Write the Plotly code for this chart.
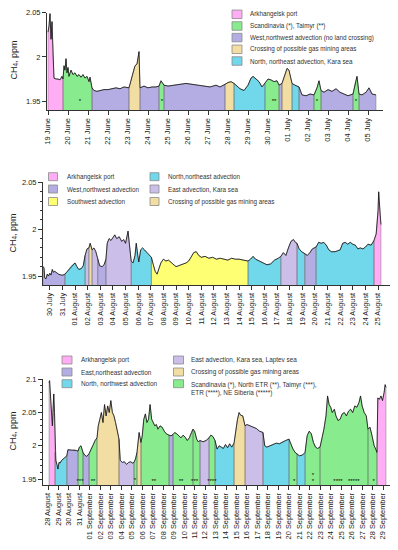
import pandas as pd
import plotly.graph_objects as go

# page body has an 8px default margin: the figure is sized to fill the rest of the window
OFF = 8
W, H = 398 - OFF, 550 - OFF

# ======================= DATA =======================
# ---- Panel 1: 19 June - 05 July ----
p1_start = "2016-06-19"
p1_day = [0.00, 0.05, 0.10, 0.15, 0.20, 0.25, 0.30, 0.40, 0.50, 0.60, 0.70, 0.75,
          0.80, 0.85, 0.90, 0.95, 1.00, 1.05, 1.15, 1.25, 1.35, 1.45, 1.55, 1.65,
          1.75, 1.85, 1.95, 2.05, 2.10, 2.20, 2.30, 2.45, 2.60, 2.80, 3.00, 3.20,
          3.40, 3.60, 3.80, 4.05, 4.20, 4.35, 4.45, 4.55, 4.60, 4.80, 5.00, 5.20,
          5.40, 5.55, 5.65, 5.80, 6.00, 6.30, 6.60, 6.90, 7.20, 7.50, 7.80, 8.10,
          8.40, 8.60, 8.85, 9.00, 9.15, 9.30, 9.45, 9.60, 9.80, 10.00, 10.15, 10.25,
          10.40, 10.55, 10.70, 10.85, 11.00, 11.15, 11.30, 11.45, 11.55, 11.70, 11.85, 11.95,
          12.05, 12.20, 12.35, 12.55, 12.70, 12.90, 13.10, 13.30, 13.45, 13.55, 13.65, 13.80,
          14.00, 14.20, 14.40, 14.60, 14.80, 15.00, 15.25, 15.35, 15.45, 15.55, 15.70, 15.90,
          16.05, 16.20, 16.40]
p1_ch4 = [2.028, 2.035, 2.049, 2.020, 2.040, 2.000, 1.976, 1.975, 1.975, 1.974, 1.978, 1.975,
          1.990, 1.985, 1.998, 1.982, 1.988, 1.978, 1.985, 1.980, 1.982, 1.978, 1.980, 1.977,
          1.980, 1.976, 1.978, 1.972, 1.977, 1.965, 1.962, 1.961, 1.962, 1.963, 1.963, 1.964,
          1.965, 1.964, 1.966, 1.965, 1.978, 1.990, 1.992, 2.006, 1.965, 1.967, 1.965, 1.966,
          1.966, 1.967, 1.973, 1.968, 1.967, 1.968, 1.969, 1.970, 1.969, 1.968, 1.967, 1.966,
          1.968, 1.966, 1.969, 1.971, 1.972, 1.970, 1.967, 1.964, 1.962, 1.968, 1.976, 1.978,
          1.975, 1.972, 1.966, 1.970, 1.975, 1.974, 1.972, 1.973, 1.968, 1.970, 1.980, 1.987,
          1.985, 1.970, 1.968, 1.966, 1.957, 1.956, 1.958, 1.957, 1.965, 1.973, 1.962, 1.960,
          1.963, 1.961, 1.964, 1.960, 1.958, 1.956, 1.958, 1.970, 1.978, 1.958, 1.957, 1.960,
          1.965, 1.958, 1.957]
p1_cats = ["Arkhangelsk port", "Scandinavia (*), Taimyr (**)",
           "West,northwest advection (no land crossing)",
           "Crossing of possible gas mining areas",
           "North, northeast advection, Kara sea"]
p1_seg_from = [0, 0.75, 2.2, 4.05, 4.6, 5.55, 5.8, 8.85, 9.3, 10.85, 11.55, 11.7, 12.2, 12.55, 13.3, 13.65, 15.25, 15.55]
p1_seg_to = [0.75, 2.2, 4.05, 4.6, 5.55, 5.8, 8.85, 9.3, 10.85, 11.55, 11.7, 12.2, 12.55, 13.3, 13.65, 15.25, 15.55, 16.4]
p1_seg_cat = [0, 1, 2, 3, 2, 1, 2, 3, 4, 1, 2, 3, 4, 2, 1, 2, 1, 2]
p1_star_day = [1.6, 5.7, 11.3, 13.45, 15.4]
p1_star_ch4 = [1.950, 1.949, 1.949, 1.950, 1.949]
p1_star_txt = ["*", "*", "**", "*", "*"]

# ---- Panel 2: 30 July - 25 August ----
p2_start = "2016-07-30"
p2_day = [-0.50, -0.45, -0.40, -0.30, -0.20, -0.10, 0.00, 0.10, 0.20, 0.30, 0.40, 0.55,
          0.70, 0.90, 1.05, 1.20, 1.40, 1.60, 1.80, 2.00, 2.15, 2.30, 2.50, 2.65,
          2.80, 2.95, 3.10, 3.20, 3.35, 3.50, 3.65, 3.80, 3.95, 4.15, 4.30, 4.45,
          4.55, 4.70, 4.85, 5.00, 5.15, 5.30, 5.50, 5.70, 5.85, 6.00, 6.10, 6.20,
          6.30, 6.45, 6.60, 6.75, 6.85, 6.95, 7.05, 7.20, 7.35, 7.50, 7.70, 7.90,
          8.05, 8.20, 8.35, 8.50, 8.65, 8.80, 9.00, 9.20, 9.40, 9.60, 9.80, 10.00,
          10.20, 10.40, 10.60, 10.80, 11.00, 11.20, 11.40, 11.60, 11.80, 12.00, 12.30, 12.60,
          12.90, 13.20, 13.50, 13.80, 14.10, 14.40, 14.70, 15.00, 15.30, 15.70, 15.90, 16.10,
          16.30, 16.60, 16.90, 17.20, 17.50, 17.80, 18.10, 18.30, 18.50, 18.70, 18.90, 19.10,
          19.30, 19.45, 19.58, 19.75, 19.95, 20.20, 20.40, 20.60, 20.80, 21.09, 21.30, 21.50,
          21.70, 21.90, 22.10, 22.30, 22.60, 22.80, 23.00, 23.20, 23.40, 23.60, 23.80, 24.00,
          24.20, 24.40, 24.60, 24.80, 25.00, 25.20, 25.45, 25.68, 25.85, 26.00, 26.05, 26.10,
          26.15, 26.23]
p2_ch4 = [1.960, 1.958, 1.948, 1.947, 1.952, 1.950, 1.953, 1.951, 1.957, 1.954, 1.955, 1.953,
          1.952, 1.951, 1.951, 1.952, 1.955, 1.959, 1.962, 1.964, 1.960, 1.957, 1.958, 1.961,
          1.972, 1.979, 1.980, 1.985, 1.978, 1.980, 1.976, 1.968, 1.961, 1.960, 1.962, 1.968,
          1.985, 1.990, 1.988, 1.991, 1.994, 1.990, 1.992, 1.987, 1.989, 1.985, 1.990, 1.998,
          1.985, 1.966, 1.964, 1.972, 1.985, 1.972, 1.965, 1.978, 1.980, 1.978, 1.975, 1.972,
          1.970, 1.962, 1.955, 1.952, 1.958, 1.964, 1.968, 1.966, 1.967, 1.965, 1.962, 1.960,
          1.961, 1.962, 1.963, 1.964, 1.966, 1.970, 1.975, 1.976, 1.972, 1.970, 1.971, 1.969,
          1.970, 1.968, 1.969, 1.968, 1.967, 1.969, 1.968, 1.968, 1.967, 1.966, 1.968, 1.971,
          1.968, 1.966, 1.964, 1.962, 1.963, 1.967, 1.969, 1.971, 1.975, 1.972, 1.980, 1.987,
          1.989, 1.986, 1.985, 1.979, 1.976, 1.974, 1.972, 1.975, 1.979, 1.981, 1.986, 1.985,
          1.986, 1.983, 1.978, 1.976, 1.976, 1.977, 1.978, 1.985, 1.986, 1.984, 1.986, 1.984,
          1.983, 1.979, 1.980, 1.979, 1.981, 1.984, 1.983, 1.988, 1.995, 2.020, 2.040, 2.030,
          2.015, 2.005]
p2_cats = ["Arkhangelsk port", "West,northwest advection", "Southwest advection",
           "North,northeast advection", "East advection, Kara sea",
           "Crossing of possible gas mining areas"]
p2_seg_from = [-0.5, 1.2, 2.8, 3.1, 3.35, 3.8, 4.45, 6.45, 8.05, 15.7, 18.3, 19.58, 20.2, 21.09, 25.68]
p2_seg_to = [1.2, 2.8, 3.1, 3.35, 3.8, 4.45, 6.45, 8.05, 15.7, 18.3, 19.58, 20.2, 21.09, 25.68, 26.23]
p2_seg_cat = [1, 3, 4, 5, 4, 1, 4, 3, 2, 3, 4, 3, 1, 3, 0]

# ---- Panel 3: 28 August - 29 September ----
p3_start = "2016-08-28"
p3_day = [0.10, 0.15, 0.20, 0.28, 0.35, 0.42, 0.50, 0.55, 0.62, 0.67, 0.75, 0.85,
          0.95, 1.05, 1.15, 1.30, 1.45, 1.60, 1.80, 1.90, 2.10, 2.30, 2.50, 2.70,
          2.87, 3.00, 3.15, 3.34, 3.50, 3.70, 3.92, 4.10, 4.30, 4.50, 4.68, 4.80,
          4.95, 5.10, 5.25, 5.40, 5.55, 5.70, 5.85, 6.00, 6.15, 6.30, 6.45, 6.60,
          6.78, 6.90, 7.10, 7.30, 7.50, 7.70, 7.90, 8.05, 8.21, 8.35, 8.50, 8.70,
          8.88, 9.00, 9.15, 9.30, 9.45, 9.60, 9.75, 9.90, 10.05, 10.20, 10.35, 10.50,
          10.70, 10.90, 11.10, 11.30, 11.56, 11.75, 11.94, 12.10, 12.30, 12.50, 12.70, 12.90,
          13.10, 13.30, 13.50, 13.70, 13.85, 14.00, 14.20, 14.35, 14.52, 14.80, 15.10, 15.38,
          15.55, 15.75, 15.95, 16.15, 16.35, 16.55, 16.75, 16.95, 17.15, 17.35, 17.55, 17.77,
          17.95, 18.10, 18.25, 18.40, 18.60, 18.82, 19.00, 19.30, 19.60, 19.90, 20.20, 20.53,
          20.70, 20.90, 21.20, 21.50, 21.80, 22.10, 22.40, 22.70, 23.02, 23.20, 23.40, 23.60,
          23.78, 24.00, 24.30, 24.55, 24.75, 24.95, 25.15, 25.35, 25.55, 25.75, 25.98, 26.15,
          26.35, 26.55, 26.70, 26.85, 27.00, 27.15, 27.35, 27.50, 27.70, 27.90, 28.10, 28.30,
          28.50, 28.70, 28.90, 29.10, 29.30, 29.50, 29.70, 29.85, 30.00, 30.20, 30.40, 30.56,
          30.75, 30.95, 31.15, 31.30, 31.42, 31.50, 31.65, 31.80, 31.95, 32.10, 32.20, 32.28]
p3_ch4 = [2.095, 2.098, 2.085, 2.060, 2.040, 2.030, 2.060, 2.078, 2.050, 1.990, 1.978, 1.972,
          1.965, 1.975, 1.974, 1.978, 1.980, 1.982, 1.985, 1.994, 1.994, 1.993, 1.994, 1.993,
          1.992, 1.998, 2.000, 1.990, 1.986, 1.984, 1.988, 1.995, 2.000, 2.008, 2.012, 2.030,
          2.040, 2.050, 2.035, 2.062, 2.045, 2.060, 2.050, 2.068, 2.050, 2.045, 2.035, 2.025,
          2.010, 1.978, 1.975, 1.976, 1.972, 1.975, 1.976, 1.974, 1.975, 1.980, 1.990, 2.020,
          2.005, 2.015, 2.040, 2.048, 2.035, 2.040, 2.062, 2.040, 2.035, 2.030, 2.032, 2.025,
          2.030, 2.028, 2.022, 2.018, 2.016, 2.015, 2.017, 2.020, 2.018, 2.015, 2.012, 2.016,
          2.013, 2.008, 2.012, 2.020, 2.025, 2.022, 2.010, 2.006, 2.008, 2.006, 2.008, 2.012,
          2.016, 2.014, 2.008, 1.995, 2.000, 1.998, 1.996, 2.002, 1.997, 2.003, 1.998, 2.004,
          2.025, 2.040, 2.050, 2.046, 2.045, 2.030, 2.032, 2.030, 2.028, 2.026, 2.022, 2.020,
          2.000, 1.998, 2.000, 2.002, 2.004, 2.003, 2.006, 2.008, 2.010, 2.002, 1.995, 1.990,
          1.988, 1.985, 1.986, 1.990, 2.015, 2.022, 2.018, 2.005, 1.998, 1.996, 1.998, 2.010,
          2.025, 2.045, 2.075, 2.062, 2.058, 2.050, 2.055, 2.045, 2.038, 2.040, 2.048, 2.050,
          2.045, 2.052, 2.055, 2.050, 2.060, 2.058, 2.065, 2.075, 2.060, 2.050, 2.045, 2.025,
          2.028, 2.015, 2.000, 1.995, 1.990, 2.072, 2.070, 2.075, 2.068, 2.080, 2.092, 2.088]
p3_cats = ["Arkhangelsk port", "East,northeast advection", "North, northwest advection",
           "East advection, Kara sea, Laptev sea", "Crossing of possible gas mining areas",
           "Scandinavia (*), North ETR (**), Taimyr (***),<br>ETR (****), NE Siberia (*****)"]
p3_seg_from = [0.1, 0.67, 1.8, 2.87, 3.34, 3.92, 4.68, 6.78, 8.21, 8.5, 8.88, 11.56, 11.94,
               13.85, 14.52, 15.38, 15.95, 17.77, 18.82, 20.53, 23.02, 23.78, 24.55, 25.98,
               30.56, 31.42]
p3_seg_to = [0.67, 1.8, 2.87, 3.34, 3.92, 4.68, 6.78, 8.21, 8.5, 8.88, 11.56, 11.94, 13.85,
             14.52, 15.38, 15.95, 17.77, 18.82, 20.53, 23.02, 23.78, 24.55, 25.98, 30.56,
             31.42, 32.28]
p3_seg_cat = [0, 2, 1, 5, 1, 5, 4, 3, 5, 4, 5, 1, 5, 5, 3, 5, 2, 4, 3, 2, 5, 2, 5, 5, 5, 0]
p3_star_day = [3.06, 4.3, 8.3, 10.1, 12.7, 14.0, 15.65, 23.5, 25.3, 25.3, 27.7, 29.2, 31.1]
p3_star_ch4 = [1.946, 1.947, 1.948, 1.946, 1.946, 1.946, 1.946, 1.946, 1.955, 1.946, 1.946, 1.946, 1.946]
p3_star_txt = ["***", "**", "*", "**", "**", "***", "****", "*", "*", "*", "****", "*****", "*"]

# ======================= STYLE =======================
COLOR = {
    "Arkhangelsk port": "#FFAEF5",
    "Scandinavia": "#88EC8E",
    "West,northwest": "#B4ADE3",
    "East,northeast": "#B4ADE3",
    "Southwest": "#FFFF73",
    "Crossing": "#F2DDA2",
    "North": "#70D8EA",
    "East advection": "#CBBFEA",
}


def color_of(label):
    for k, v in COLOR.items():
        if label.startswith(k):
            return v
    return "#cccccc"


FONT = "Liberation Sans, Arial, sans-serif"
AX = "#333333"


def px_x(px):
    return (px - OFF) / W


def px_y(py):
    return 1 - (py - OFF) / H


panels = [
    dict(start=p1_start, day=p1_day, ch4=p1_ch4, cats=p1_cats, sf=p1_seg_from, st=p1_seg_to,
         sc=p1_seg_cat, star=(p1_star_day, p1_star_ch4, p1_star_txt),
         xdom=(47, 383), ydom=(12.5, 110), xr=(-0.05, 16.75), yr=(1.9399, 2.0503),
         yticks=[1.95, 2.0, 2.05], minor=False, tick_size=7.5, title_xy=(13.5, 60)),
    dict(start=p2_start, day=p2_day, ch4=p2_ch4, cats=p2_cats, sf=p2_seg_from, st=p2_seg_to,
         sc=p2_seg_cat, star=None,
         xdom=(43, 390.3), ydom=(182, 285), xr=(-0.535, 26.97), yr=(1.9404, 2.0505),
         yticks=[1.95, 2.0, 2.05], minor=True, tick_size=7.3, title_xy=(12.5, 233)),
    dict(start=p3_start, day=p3_day, ch4=p3_ch4, cats=p3_cats, sf=p3_seg_from, st=p3_seg_to,
         sc=p3_seg_cat, star=(p3_star_day, p3_star_ch4, p3_star_txt),
         xdom=(43, 393), ydom=(379, 485), xr=(-0.478, 32.95), yr=(1.941, 2.1005),
         yticks=[1.95, 2.0, 2.05, 2.1], minor=True, tick_size=7.4, title_xy=(12.5, 431)),
]

fig = go.Figure()
layout = dict(width=W, height=H, margin=dict(l=0, r=0, t=0, b=0, autoexpand=False),
              paper_bgcolor="white", plot_bgcolor="white", showlegend=False,
              font=dict(family=FONT, color="#222"))
annotations = []
shapes = []

for i, p in enumerate(panels):
    n = "" if i == 0 else str(i + 1)
    xa, ya = "x" + n, "y" + n
    t0 = pd.Timestamp(p["start"])
    tt = [t0 + pd.Timedelta(days=d) for d in p["day"]]
    base = p["yr"][0] - 0.002
    edge_x, edge_y = [], []
    # coloured segments (area under the curve, one per air-mass category)
    for a, b, c in zip(p["sf"], p["st"], p["sc"]):
        idx = [k for k, d in enumerate(p["day"]) if a - 1e-9 <= d <= b + 1e-9]
        fig.add_trace(go.Scatter(x=[tt[k] for k in idx], y=[p["ch4"][k] for k in idx],
                                 mode="lines", fill="tozeroy",
                                 fillcolor=color_of(p["cats"][c]),
                                 line=dict(color="rgba(110,110,110,0.9)", width=0.5,
                                           simplify=False),
                                 xaxis=xa, yaxis=ya, hoverinfo="skip"))
        for k in (idx[0], idx[-1]):
            edge_x += [tt[k], tt[k], None]
            edge_y += [base, p["ch4"][k], None]
    # segment borders
    fig.add_trace(go.Scatter(x=edge_x, y=edge_y, mode="lines",
                             line=dict(color="rgba(100,100,100,0.85)", width=0.5),
                             xaxis=xa, yaxis=ya, hoverinfo="skip"))
    # concentration line
    fig.add_trace(go.Scatter(x=tt, y=p["ch4"], mode="lines",
                             line=dict(color="#111111", width=0.8),
                             xaxis=xa, yaxis=ya))
    if p["star"]:
        sd, sv, stx = p["star"]
        fig.add_trace(go.Scatter(x=[t0 + pd.Timedelta(days=d) for d in sd], y=sv, text=stx,
                                 mode="text", textfont=dict(size=6, color="#000"),
                                 xaxis=xa, yaxis=ya))
    xr = [t0 + pd.Timedelta(days=p["xr"][0]), t0 + pd.Timedelta(days=p["xr"][1])]
    layout["xaxis" + n] = dict(
        domain=[px_x(p["xdom"][0]), px_x(p["xdom"][1])], anchor=ya, type="date",
        range=xr, tickformat="%d %B", dtick=86400000, tick0=t0, tickangle=-90,
        automargin=False, ticklabeloverflow="allow",
        ticks="outside", ticklen=4, tickcolor=AX, showline=True, linecolor=AX, linewidth=1,
        showgrid=False, zeroline=False, tickfont=dict(size=p["tick_size"], color="#222"))
    yax = dict(
        domain=[px_y(p["ydom"][1]), px_y(p["ydom"][0])], anchor=xa, range=list(p["yr"]),
        tickmode="array", tickvals=p["yticks"], ticktext=[f"{v:g}" for v in p["yticks"]],
        automargin=False, ticklabeloverflow="allow",
        ticks="outside", ticklen=4, tickcolor=AX, showline=True, linecolor=AX, linewidth=1,
        showgrid=False, zeroline=False, tickfont=dict(size=7.5, color="#222"))
    if p["minor"]:
        yax["minor"] = dict(tickmode="linear", tick0=1.95, dtick=0.01, ticklen=2,
                            ticks="outside", tickcolor=AX, showgrid=False)
    layout["yaxis" + n] = yax
    tx, ty = p["title_xy"]
    annotations.append(dict(text="CH<sub>4</sub>, ppm", x=px_x(tx), y=px_y(ty),
                            xref="paper", yref="paper", showarrow=False, textangle=-90,
                            font=dict(size=9, color="#222"), xanchor="center", yanchor="middle"))

# ---- legends ----
leg = [
    (p1_cats, [(0, 232, 14.3, 248), (1, 232, 26, 248), (2, 232, 37.6, 248),
               (3, 232, 49.3, 248), (4, 232, 61, 248)], (10, 8.5), 6.3),
    (p2_cats, [(0, 48.5, 176.7, 65), (1, 48.5, 189, 65), (2, 48.5, 201.5, 65),
               (3, 150, 176.7, 166), (4, 150, 189, 166), (5, 150, 201.5, 166)], (9, 8), 6.3),
    (p3_cats, [(0, 62, 360, 78.5), (1, 62, 372, 78.5), (2, 62, 383.7, 78.5),
               (3, 173.5, 360, 189), (4, 173.5, 372, 189), (5, 173.5, 383.7, 189)], (10, 8), 6.4),
]
for cats, items, (bw, bh), fs in leg:
    for ci, bx, ry, txx in items:
        shapes.append(dict(type="rect", xref="paper", yref="paper",
                           x0=px_x(bx), x1=px_x(bx + bw), y0=px_y(ry + bh / 2), y1=px_y(ry - bh / 2),
                           fillcolor=color_of(cats[ci]), line=dict(color="#8a8a8a", width=0.8)))
        label = cats[ci]
        two = "<br>" in label
        annotations.append(dict(text=label, x=px_x(txx), y=px_y(ry - (4.5 if two else 0)),
                                xref="paper", yref="paper", showarrow=False,
                                xanchor="left", yanchor="top" if two else "middle",
                                align="left", font=dict(size=fs, color="#333")))

layout["annotations"] = annotations
layout["shapes"] = shapes
fig.update_layout(**layout)
fig.write_html("out.html")
